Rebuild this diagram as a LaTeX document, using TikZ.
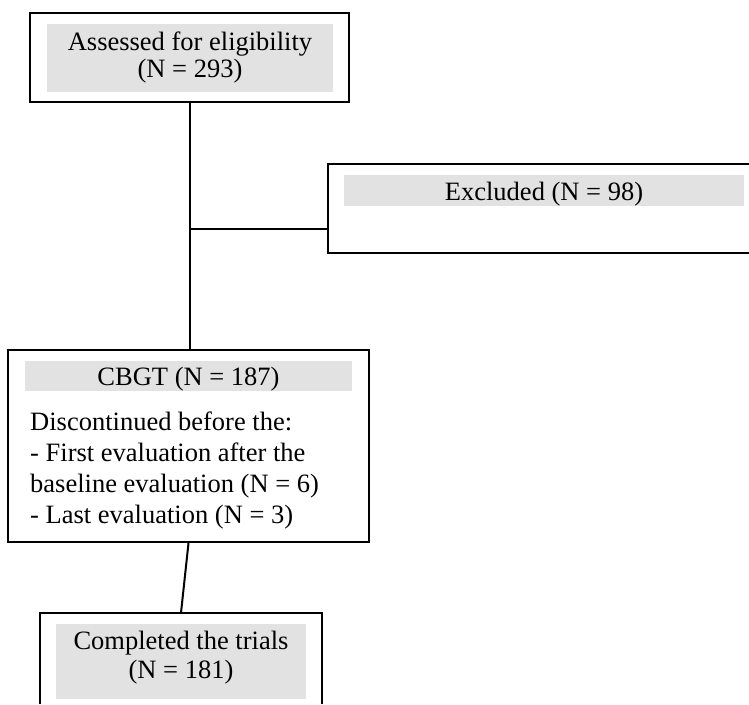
\documentclass[tikz,border=0pt]{standalone}
\usepackage{fontspec}
\setmainfont{Liberation Serif}
\definecolor{boxgray}{RGB}{226,226,226}
\begin{document}
\begin{tikzpicture}[x=1pt,y=-1pt,
  frame/.style={draw=black, line width=2pt, inner sep=0pt},
  openframe/.style={inner sep=0pt},
  graybar/.style={fill=boxgray, draw=none, inner sep=0pt},
  txt/.style={font=\fontsize{26.5}{30}\selectfont, inner sep=0pt},
  link/.style={draw=black, line width=2pt}]
\useasboundingbox (0,0) rectangle (749,704);
% top box
\node[frame, minimum width=319, minimum height=89] (assess) at (189.5,57.5) {};
\node[graybar, minimum width=286, minimum height=68] (assessbar) at (190,58) {};
\node[txt, align=center, anchor=base, font=\fontsize{26.5}{27.5}\selectfont] (assesstxt) at (190,77.5) {Assessed for eligibility\\(N = 293)};
% excluded box (open on the right)
\node[openframe, minimum width=421, minimum height=89] (excl) at (538.5,208.5) {};
\draw[link] (excl.north east) -- (excl.north west) -- (excl.south west) -- (excl.south east);
\node[graybar, minimum width=400, minimum height=31] (exclbar) at (544,190.5) {};
\node[txt, anchor=base] (excltxt) at (544,200) {Excluded (N = 98)};
% CBGT box
\node[frame, minimum width=361, minimum height=192] (cbgt) at (188.5,446) {};
\node[graybar, minimum width=327, minimum height=30] (cbgtbar) at (188.5,376) {};
\node[txt, anchor=base] (cbgttxt) at (188.5,385) {CBGT (N = 187)};
\node[txt, align=left, anchor=base west, font=\fontsize{26.5}{30.8}\selectfont] (disctxt) at (30,523) {Discontinued before the:\\- First evaluation after the\\baseline evaluation (N = 6)\\- Last evaluation (N = 3)};
% completed box (open at the bottom)
\node[openframe, minimum width=282, minimum height=91] (comp) at (181,658.5) {};
\draw[link] (comp.south west) -- (comp.north west) -- (comp.north east) -- (comp.south east);
\node[graybar, minimum width=250, minimum height=75] (compbar) at (181,661.5) {};
\node[txt, align=center, anchor=base, font=\fontsize{26.5}{29}\selectfont] (comptxt) at (181,678) {Completed the trials\\(N = 181)};
% connectors
\coordinate (branch) at (189.5,229);
\draw[link] (assess.south) -- (assess.south |- cbgt.north);
\draw[link] (branch) -- (branch -| excl.west);
\draw[link] (cbgt.south) -- (comp.north);
\end{tikzpicture}
\end{document}
